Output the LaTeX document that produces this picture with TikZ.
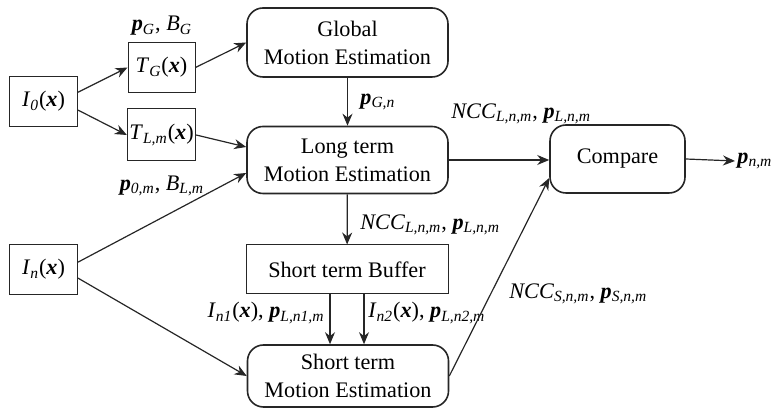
\documentclass[tikz,border=0pt]{standalone}
\usepackage{fontspec}
\setmainfont{Liberation Serif}
\usepackage{tikz}
\usetikzlibrary{arrows.meta, positioning, calc}

% bold italic vectors and italic subscripts
\newcommand{\bvec}[1]{\textbf{\textit{#1}}}
\newcommand{\lsub}[1]{\textsubscript{\textit{#1}}}

\begin{document}
\begin{tikzpicture}[
    x=0.5pt, y=-0.5pt,
    font=\fontsize{11.1}{14}\selectfont,
    frame/.style={rectangle, draw=black!85, line width=0.5pt, minimum width=34pt, minimum height=25pt, inner sep=1pt},
    warp/.style={rectangle, draw=black!85, line width=0.5pt, minimum width=33.5pt, minimum height=25pt, inner sep=1pt},
    estim/.style={rectangle, rounded corners=8pt, draw=black!85, line width=0.8pt, minimum width=100.5pt, minimum height=33.5pt, align=center, inner sep=2pt},
    buffer/.style={rectangle, draw=black!85, line width=0.5pt, minimum width=101pt, minimum height=24.5pt},
    arrow/.style={-{Stealth[length=6pt,width=5pt]}, line width=0.6pt, draw=black!85},
    tag/.style={inner sep=1pt}
]
    \useasboundingbox (0,0) rectangle (776,410);

    % input frames
    \node[frame] (I0) at (43.5,101.5) {\textit{I}\lsub{0}(\bvec{x})};
    \node[frame] (In) at (43.5,269.5) {\textit{I}\lsub{n}(\bvec{x})};

    % warped reference frames
    \node[warp] (TG) at (161.5,67.5) {\textit{T}\lsub{G}(\bvec{x})};
    \node[warp, minimum height=26pt] (TLm) at (161.5,135) {\textit{T}\lsub{L,m}(\bvec{x})};

    % estimation stages
    \node[estim, minimum height=34.5pt] (GME) at (347.5,42.5) {Global\\Motion Estimation};
    \node[estim] (LME) at (347.5,160) {Long term\\Motion Estimation};
    \node[buffer] (Buf) at (347,269.5) {Short term Buffer};
    \node[estim, minimum height=31pt] (SME) at (348,376) {Short term\\Motion Estimation};
    \node[estim, minimum width=67.5pt, minimum height=34pt] (Cmp) at (617.5,159) {Compare};
    \node[tag, anchor=west] (pout) at (735,161) {\bvec{p}\lsub{n,m}};

    % parameter labels
    \node[tag] (lG) at (162,26) {\bvec{p}\lsub{G}, \textit{B}\lsub{G}};
    \node[tag] (lLm) at (162,186) {\bvec{p}\lsub{0,m}, \textit{B}\lsub{L,m}};
    \node[tag, anchor=west] (lGn) at (358,102) {\bvec{p}\lsub{G,n}};
    \node[tag, anchor=west] (lLtop) at (449,114) {\textit{NCC}\lsub{L,n,m}, \bvec{p}\lsub{L,n,m}};
    \node[tag, anchor=west] (lLbuf) at (358,225) {\textit{NCC}\lsub{L,n,m}, \bvec{p}\lsub{L,n,m}};
    \node[tag, anchor=east] (ln1) at (327,313) {\textit{I}\lsub{n1}(\bvec{x}), \bvec{p}\lsub{L,n1,m}};
    \node[tag, anchor=west] (ln2) at (366,313) {\textit{I}\lsub{n2}(\bvec{x}), \bvec{p}\lsub{L,n2,m}};
    \node[tag, anchor=west] (lS) at (507,294) {\textit{NCC}\lsub{S,n,m}, \bvec{p}\lsub{S,n,m}};

    % connections
    \draw[arrow] (I0.15) -- (TG.west);
    \draw[arrow] (I0.-14) -- (TLm.west);
    \draw[arrow] (TG.east) -- (GME.west);
    \draw[arrow] (TLm.east) -- ([yshift=6.5pt]LME.west);
    \draw[arrow] (In.12) -- ([yshift=-6.5pt]LME.west);
    \draw[arrow] (In.-14) -- (SME.west);
    \draw[arrow] (GME) -- (LME);
    \draw[arrow] (LME.east) -- (LME.east -| Cmp.west);
    \draw[arrow] (LME) -- (Buf);
    \draw[arrow] ([xshift=-8.5pt]Buf.south) -- ([xshift=-8.5pt]Buf.south |- SME.north);
    \draw[arrow] ([xshift=8.5pt]Buf.south) -- ([xshift=8.5pt]Buf.south |- SME.north);
    \draw[arrow] (SME.east) -- ([yshift=-9.5pt]Cmp.west);
    \draw[arrow] (Cmp.east) -- (pout.west);
\end{tikzpicture}
\end{document}
